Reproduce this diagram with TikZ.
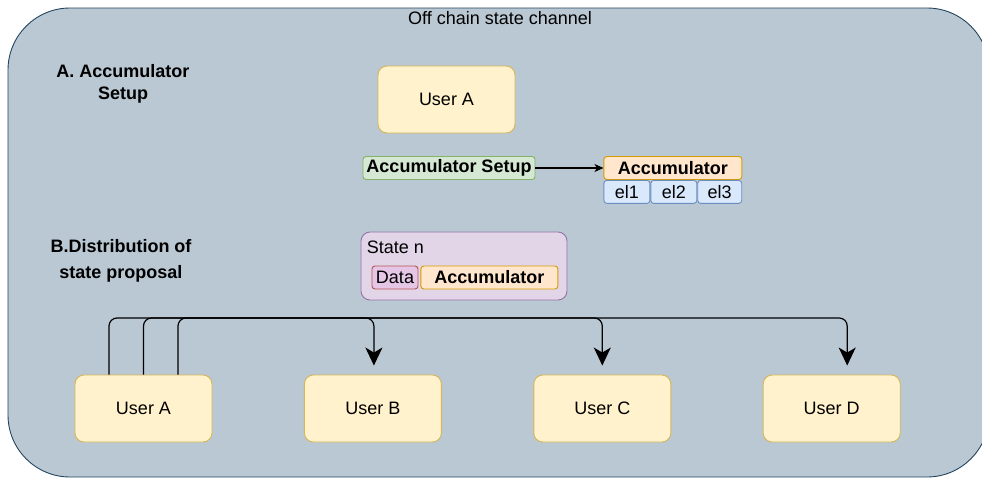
\documentclass[tikz,border=0pt]{standalone}
\usepackage{fontspec}
\setmainfont{Liberation Sans}
\usetikzlibrary{positioning,arrows.meta}
\definecolor{chanfill}{HTML}{BAC8D3}
\definecolor{chanline}{HTML}{23445D}
\definecolor{userfill}{HTML}{FFF2CC}
\definecolor{userline}{HTML}{D6B656}
\definecolor{setupfill}{HTML}{D5E8D4}
\definecolor{setupline}{HTML}{82B366}
\definecolor{accfill}{HTML}{FFE6CC}
\definecolor{accline}{HTML}{D79B00}
\definecolor{elfill}{HTML}{DAE8FC}
\definecolor{elline}{HTML}{6C8EBF}
\definecolor{statefill}{HTML}{E1D5E7}
\definecolor{stateline}{HTML}{9673A6}
\definecolor{datafill}{HTML}{E6C6E6}
\definecolor{dataline}{HTML}{B85450}

\begin{document}
\begin{tikzpicture}[
  x = 1pt,
  y = -1pt,
  every node/.style = {
    font = \fontsize{18}{22}\selectfont,
  },
  channel/.style = {
    draw = chanline,
    fill = chanfill,
    line width = 0.9pt,
    rounded corners = 62pt,
    minimum width = 981pt,
    minimum height = 469pt,
  },
  head/.style = {
    align = center,
    inner sep = 0pt,
    font = \fontsize{18}{22}\selectfont\bfseries,
  },
  user/.style = {
    draw = userline,
    fill = userfill,
    line width = 0.9pt,
    rounded corners = 9pt,
    minimum width = 137pt,
    minimum height = 67pt,
  },
  cell/.style = {
    draw,
    line width = 0.9pt,
    rounded corners = 3pt,
    inner sep = 0pt,
    minimum height = 23pt,
  },
  setupbox/.style = {
    cell,
    draw = setupline,
    fill = setupfill,
    font = \fontsize{18}{22}\selectfont\bfseries,
  },
  accbox/.style = {
    cell,
    draw = accline,
    fill = accfill,
    minimum width = 138pt,
    font = \fontsize{18}{22}\selectfont\bfseries,
  },
  elbox/.style = {
    cell,
    draw = elline,
    fill = elfill,
    minimum width = 46pt,
  },
  statebox/.style = {
    draw = stateline,
    fill = statefill,
    line width = 0.9pt,
    rounded corners = 9pt,
    minimum width = 206pt,
    minimum height = 68pt,
  },
  databox/.style = {
    cell,
    draw = dataline,
    fill = datafill,
    minimum width = 46pt,
  },
  link/.style = {
    draw,
    line width = 1.2pt,
    rounded corners = 8pt,
    shorten > = 9pt,
    ->,
  },
  >={Stealth[length=18pt,width=17pt,inset=5pt]},
]

  \useasboundingbox (0,0) rectangle (982,479);

  \node[channel] (chan) at (498.5,242.5) {};
  \node[inner sep=0pt] (title) at (500,18) {Off chain state channel};

  \node[head] (secA) at (123,84) {A. Accumulator\\Setup};
  \node[head,font=\fontsize{18}{26}\selectfont\bfseries] (secB) at (121,261) {B.Distribution of\\state proposal};

  \node[user] (top) at (446.5,99.5) {User A};

  \node[setupbox,minimum width=172pt] (setup) at (449,168) {Accumulator Setup};
  \node[accbox] (acc) [right=68pt of setup] {Accumulator};
  \node[elbox] (el1) [below right=0pt of acc.south west] {el1};
  \node[elbox] (el2) [right=0pt of el1] {el2};
  \node[elbox,minimum width=44pt] (el3) [right=0pt of el2] {el3};

  \node[statebox] (state) at (464,266) {};
  \node[inner sep=0pt] (stlbl) [below right=9pt and 6pt of state.north west] {State n};
  \node[databox] (data) at (395,277.5) {Data};
  \node[accbox,minimum width=137pt] (stacc) [right=2pt of data] {Accumulator};

  \node[user] (uA) at (143.5,408.5) {User A};
  \node[user] (uB) [right=91.5pt of uA] {User B};
  \node[user] (uC) [right=91.5pt of uB] {User C};
  \node[user] (uD) [right=91.5pt of uC] {User D};

  \path[-{Stealth[length=9pt,width=8pt,inset=2.5pt]},draw,line width=1.1pt] (setup) edge (acc);

  \coordinate (bus) at (0,318);

  \path[link] ([xshift=-34.5pt]uA.north) |- ([xshift=15.5pt]uD.north |- bus) -- ([xshift=15.5pt]uD.north);
  \path[link] (uA.north) |- (uC.north |- bus) -- (uC.north);
  \path[link] ([xshift=34.5pt]uA.north) |- ([xshift=1pt]uB.north |- bus) -- ([xshift=1pt]uB.north);

\end{tikzpicture}
\end{document}
